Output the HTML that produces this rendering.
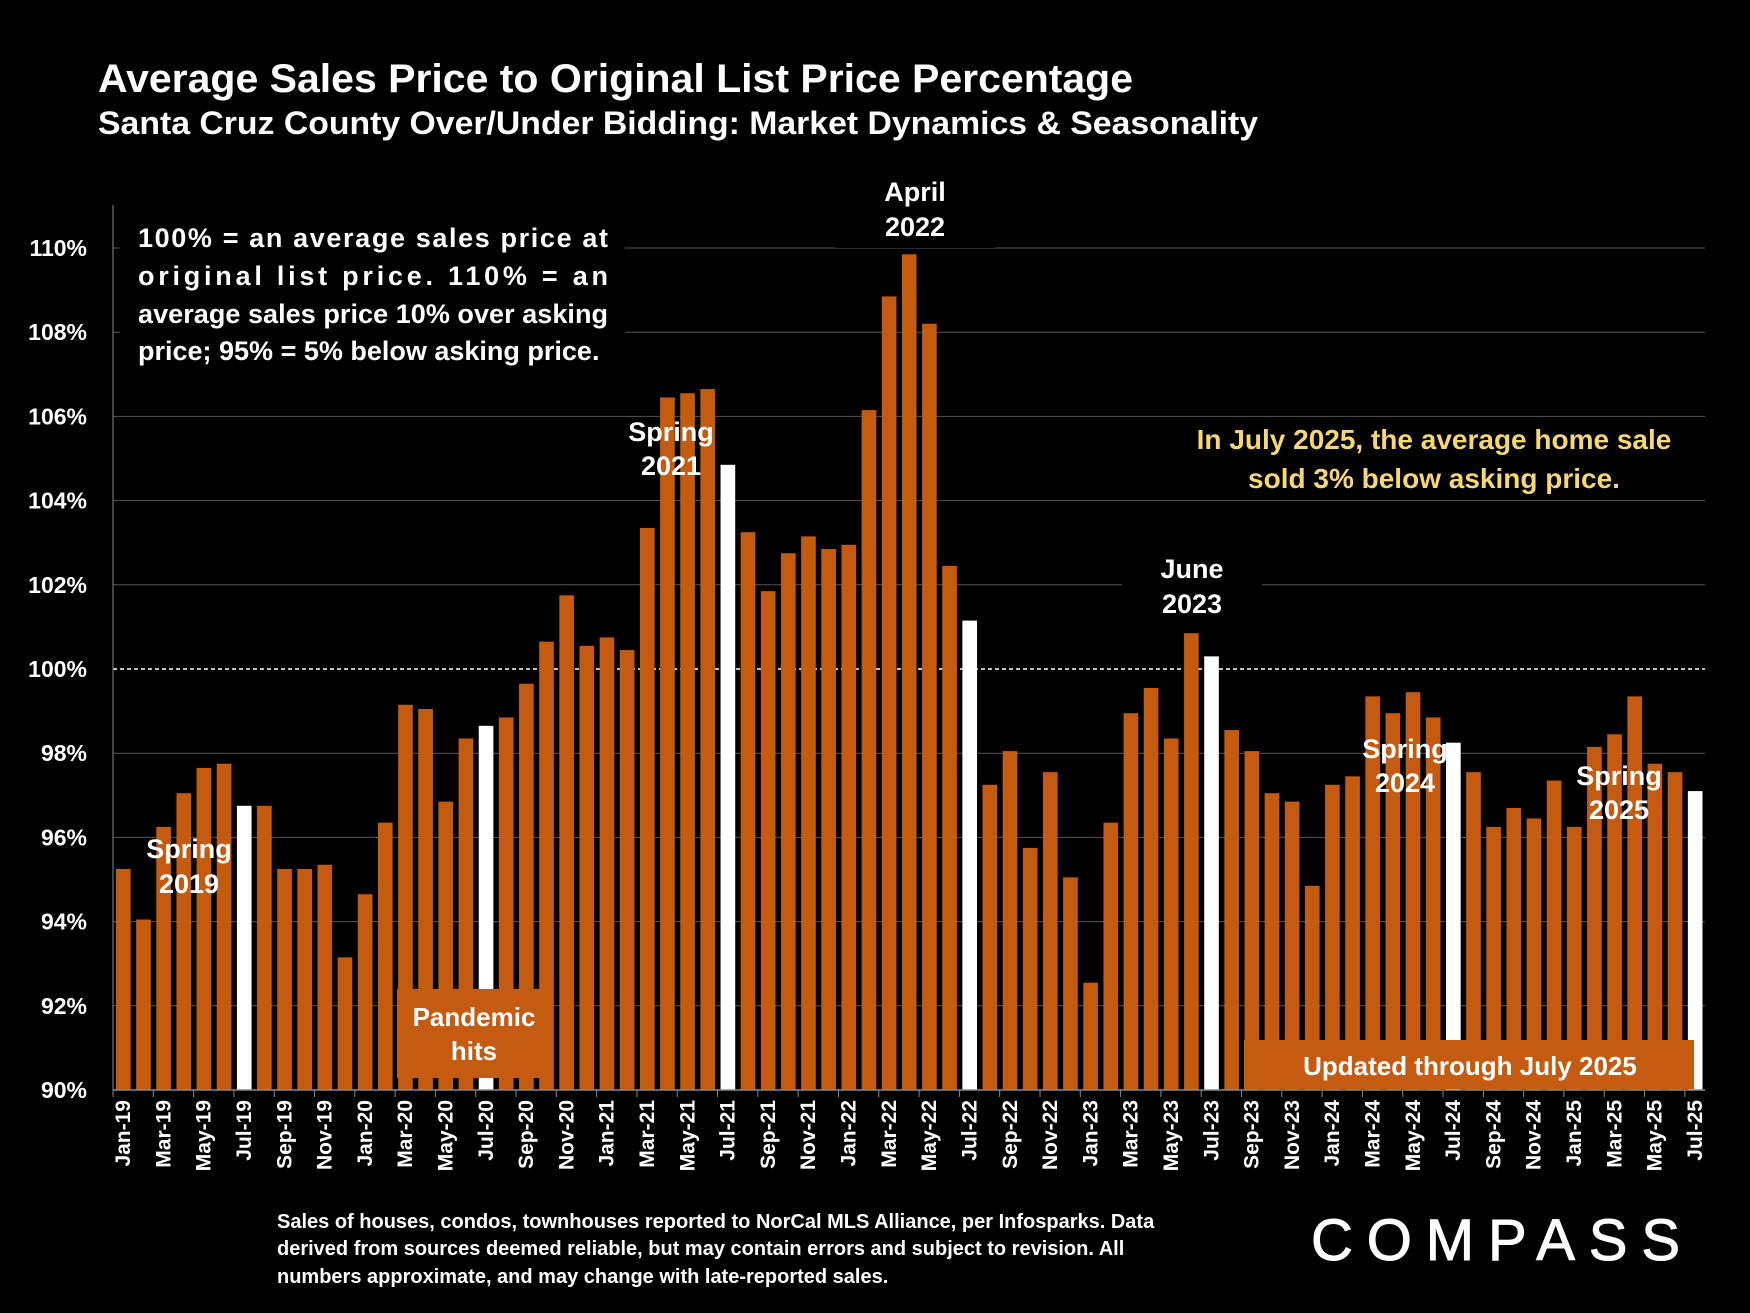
<!DOCTYPE html>
<html><head><meta charset="utf-8"><style>
html,body{margin:0;padding:0;background:#000;}
svg{display:block;font-family:"Liberation Sans",sans-serif;}
</style></head><body>
<svg id="chart" width="1750" height="1313" viewBox="0 0 1750 1313">
<rect width="1750" height="1313" fill="#000"/>
<text x="98" y="92" fill="#fff" font-size="40" font-weight="bold" textLength="1035" lengthAdjust="spacingAndGlyphs">Average Sales Price to Original List Price Percentage</text>
<text x="98" y="134" fill="#fff" font-size="32" font-weight="bold" textLength="1160" lengthAdjust="spacingAndGlyphs">Santa Cruz County Over/Under Bidding: Market Dynamics &amp; Seasonality</text>
<g id="grid"></g>
<g id="bars"></g>
<g id="xaxis"></g>
<g>
<rect x="120" y="212" width="505" height="165" fill="#000"/>
<g fill="#fff" font-size="27" font-weight="bold">
<text x="138" y="247" textLength="470" lengthAdjust="spacing">100% = an average sales price at</text>
<text x="138" y="285" textLength="470" lengthAdjust="spacing">original list price. 110% = an</text>
<text x="138" y="323" textLength="470" lengthAdjust="spacing">average sales price 10% over asking</text>
<text x="138" y="360">price; 95% = 5% below asking price.</text>
</g></g>
<rect x="835" y="168" width="160" height="80" fill="#000"/>
<rect x="1122" y="553" width="140" height="67" fill="#000"/>
<g fill="#fff" font-size="27" font-weight="bold" text-anchor="middle">
<text x="915" y="201">April<tspan x="915" dy="35">2022</tspan></text>
<text x="671" y="441">Spring<tspan x="671" dy="34">2021</tspan></text>
<text x="1192" y="578">June<tspan x="1192" dy="35">2023</tspan></text>
<text x="189" y="858">Spring<tspan x="189" dy="35">2019</tspan></text>
<text x="1405" y="758">Spring<tspan x="1405" dy="34">2024</tspan></text>
<text x="1619" y="785">Spring<tspan x="1619" dy="34">2025</tspan></text>
</g>
<text x="1434" y="449" fill="#f7d675" font-size="28" font-weight="bold" text-anchor="middle">In July 2025, the average home sale<tspan x="1434" dy="39">sold 3% below asking price.</tspan></text>
<g>
<rect x="397" y="989" width="153" height="89" fill="#c55a11"/>
<text x="474" y="1026" fill="#fff" font-size="26" font-weight="bold" text-anchor="middle">Pandemic<tspan x="474" dy="34">hits</tspan></text>
</g>
<g>
<rect x="1244" y="1040" width="450" height="49" fill="#c55a11"/>
<text x="1470" y="1075" fill="#fff" font-size="26" font-weight="bold" text-anchor="middle">Updated through July 2025</text>
</g>
<g fill="#fff" font-size="20" font-weight="bold">
<text x="277" y="1228">Sales of houses, condos, townhouses reported to NorCal MLS Alliance, per Infosparks. Data</text>
<text x="277" y="1255">derived from sources deemed reliable, but may contain errors and subject to revision. All</text>
<text x="277" y="1283">numbers approximate, and may change with late-reported sales.</text>
</g>
<text x="1311" y="1260" fill="#fff" font-size="58" stroke="#fff" stroke-width="1" textLength="369" lengthAdjust="spacing">COMPASS</text>
<script>
const months = ["Jan","Feb","Mar","Apr","May","Jun","Jul","Aug","Sep","Oct","Nov","Dec"];
const startYear = 19;
const values = [95.25,94.05,96.25,97.05,97.65,97.75,96.75,96.75,95.25,95.25,95.35,93.15,
94.65,96.35,99.15,99.05,96.85,98.35,98.65,98.85,99.65,100.65,101.75,100.55,
100.75,100.45,103.35,106.45,106.55,106.65,104.85,103.25,101.85,102.75,103.15,102.85,
102.95,106.15,108.85,109.85,108.2,102.45,101.15,97.25,98.05,95.75,97.55,95.05,
92.55,96.35,98.95,99.55,98.35,100.85,100.3,98.55,98.05,97.05,96.85,94.85,
97.25,97.45,99.35,98.95,99.45,98.85,98.25,97.55,96.25,96.7,96.45,97.35,
96.25,98.15,98.45,99.35,97.75,97.55,97.1];
const yTicks = [90,92,94,96,98,100,102,104,106,108,110];
const ns = "http://www.w3.org/2000/svg";
const X0 = 113, X1 = 1705, Y90 = 1090, PX = 42.1;
const slot = (X1 - X0) / values.length;
function xScale(i){ return X0 + slot * i; }
function yScale(v){ return Y90 - (v - 90) * PX; }
function mk(tag, attrs, parent){ const e = document.createElementNS(ns, tag); for (const k in attrs) e.setAttribute(k, attrs[k]); parent.appendChild(e); return e; }
const grid = document.getElementById('grid');
yTicks.forEach(t => {
  if (t > 90) {
    const l = mk('line', {x1:X0, x2:X1, y1:yScale(t), y2:yScale(t), stroke: t===100?'#fff':'#555', 'stroke-width': t===100?1.5:1, 'stroke-dasharray': t===100?'4,3':'none'}, grid);
    
    
  }
  const tx = mk('text', {x:87, y:yScale(t)+8, fill:'#fff', 'font-size':23, 'font-weight':'bold', 'text-anchor':'end'}, grid);
  tx.textContent = t + '%';
  
  
});
const bars = document.getElementById('bars');
values.forEach((v, i) => {
  const isJul = (i % 12) === 6;
  const r = mk('rect', {x: xScale(i) + 3, y: yScale(v), width: slot - 5.5, height: Y90 - yScale(v), fill: isJul ? '#fff' : '#c55a11'}, bars);
  
  
});
const xa = document.getElementById('xaxis');
const ax = mk('line', {x1:X0, x2:X1, y1:Y90, y2:Y90, stroke:'#888', 'stroke-width':1.5}, xa);


const yax = mk('line', {x1:X0, x2:X0, y1:205, y2:Y90, stroke:'#888', 'stroke-width':1}, xa);


values.forEach((v, i) => {
  if (i % 2 === 0) {
    const tk = mk('line', {x1:xScale(i), x2:xScale(i), y1:Y90, y2:Y90+7, stroke:'#888'}, xa);
    
    
    const cx = xScale(i) + slot/2 + 7;
    const t = mk('text', {x:0, y:0, fill:'#fff', 'font-size':21, 'font-weight':'bold', 'text-anchor':'end', transform:'translate(' + cx + ',1100) rotate(-90)'}, xa);
    t.textContent = months[i%12] + '-' + (startYear + Math.floor(i/12));
    
    
  }
});
</script>
</svg>
</body></html>
